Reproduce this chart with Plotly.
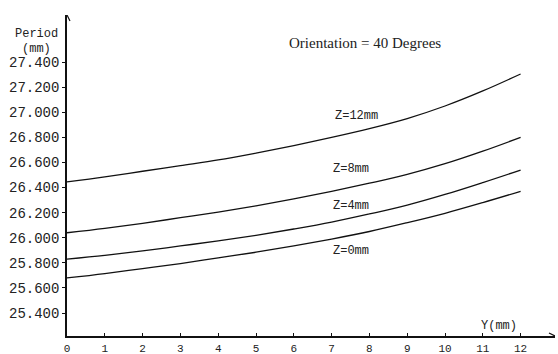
import plotly.graph_objects as go

y_pos = [0, 1, 2, 3, 4, 5, 6, 7, 8, 9, 10, 11, 12]
period_z0 = [25.68, 25.715, 25.755, 25.795, 25.84, 25.885, 25.935, 25.99, 26.05, 26.12, 26.195, 26.28, 26.37]
period_z4 = [25.83, 25.86, 25.895, 25.935, 25.975, 26.02, 26.07, 26.125, 26.19, 26.26, 26.345, 26.44, 26.54]
period_z8 = [26.04, 26.075, 26.115, 26.16, 26.205, 26.255, 26.31, 26.37, 26.435, 26.505, 26.59, 26.69, 26.80]
period_z12 = [26.445, 26.485, 26.53, 26.575, 26.62, 26.675, 26.735, 26.80, 26.87, 26.95, 27.05, 27.17, 27.305]

series_names = ["Z=0mm", "Z=4mm", "Z=8mm", "Z=12mm"]
series_values = [period_z0, period_z4, period_z8, period_z12]
label_x = [7.52, 7.52, 7.52, 7.65]
label_y = [25.895, 26.253, 26.548, 26.97]

y_ticks = [25.4, 25.6, 25.8, 26.0, 26.2, 26.4, 26.6, 26.8, 27.0, 27.2, 27.4]
x_ticks = list(range(0, 13))

XMAX = 12.91
YMIN, YMAX = 25.2175, 27.775
MONO = "Liberation Mono, Courier New, monospace"
SERIF = "Liberation Serif, Times New Roman, serif"

fig = go.Figure()
for name, vals in zip(series_names, series_values):
    fig.add_trace(go.Scatter(x=y_pos, y=vals, mode="lines", name=name,
                             line=dict(color="#111111", width=1.3, shape="spline"),
                             showlegend=False, hoverinfo="skip"))

annotations = []
for name, lx, ly in zip(series_names, label_x, label_y):
    annotations.append(dict(x=lx, y=ly, xref="x", yref="y", text=name, showarrow=False,
                            xanchor="center", yanchor="middle",
                            font=dict(family=MONO, size=12, color="#222")))
annotations += [
    dict(x=7.88, y=27.552, xref="x", yref="y", text="Orientation = 40 Degrees", showarrow=False,
         xanchor="center", yanchor="middle",
         font=dict(family=SERIF, size=15, color="#222")),
    dict(x=-0.0635, y=0.9408, xref="paper", yref="paper", text="Period", showarrow=False,
         xanchor="center", yanchor="middle",
         font=dict(family=MONO, size=12, color="#222")),
    dict(x=-0.0635, y=0.894, xref="paper", yref="paper", text="(mm)", showarrow=False,
         xanchor="center", yanchor="middle",
         font=dict(family=MONO, size=12, color="#222")),
    dict(x=11.43, y=25.295, xref="x", yref="y", text="Y(mm)", showarrow=False,
         xanchor="center", yanchor="middle",
         font=dict(family=MONO, size=12, color="#222")),
]

shapes = [
    dict(type="path", xref="x", yref="y", xsizemode="pixel", ysizemode="pixel",
         xanchor=0, yanchor=YMAX, path="M -3,-6 L 0,0 L 3,-6",
         line=dict(color="#111", width=1.2)),
    dict(type="path", xref="x", yref="y", xsizemode="pixel", ysizemode="pixel",
         xanchor=XMAX, yanchor=YMIN, path="M -6,3 L 0,0 L -6,-3",
         line=dict(color="#111", width=1.2)),
]

fig.update_layout(
    width=558, height=354,
    margin=dict(l=67, r=3, t=15, b=18),
    paper_bgcolor="white", plot_bgcolor="white",
    template="none",
    annotations=annotations, shapes=shapes,
    xaxis=dict(range=[0, XMAX], tickvals=x_ticks, ticktext=[str(v) for v in x_ticks],
               showgrid=False, zeroline=False, showline=True, linecolor="#111", linewidth=1.5,
               ticks="inside", ticklen=3, tickcolor="#111", automargin=False,
               ticklabelstandoff=1,
               tickfont=dict(family=MONO, size=11, color="#222")),
    yaxis=dict(range=[YMIN, YMAX], tickvals=y_ticks, ticktext=[f"{v:.3f}" for v in y_ticks],
               showgrid=False, zeroline=False, showline=True, linecolor="#111", linewidth=1.5,
               ticks="outside", ticklen=3, tickcolor="#111", automargin=False,
               tickfont=dict(family=MONO, size=14, color="#222")),
)

fig.write_html("out.html", config={"displayModeBar": False},
               post_script="document.body.style.margin='0';")
